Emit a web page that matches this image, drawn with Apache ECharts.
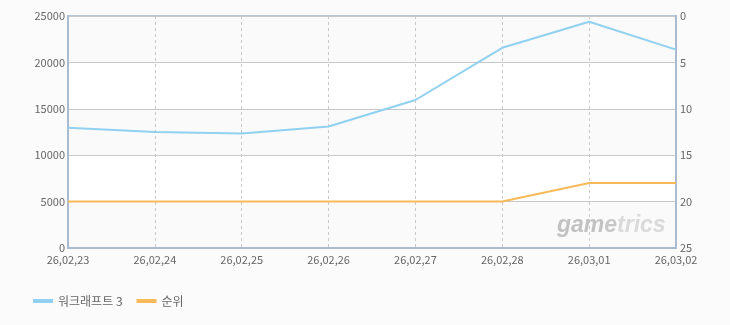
<!DOCTYPE html>
<html>
<head>
<meta charset="utf-8">
<script src="https://cdn.jsdelivr.net/npm/echarts@6/dist/echarts.min.js"></script>
<style>
html,body{margin:0;padding:0;background:#fbfbfb;}
#c{width:730px;height:325px;}
</style>
</head>
<body>
<div id="c"></div>
<script>
var categories = ['26,02,23','26,02,24','26,02,25','26,02,26','26,02,27','26,02,28','26,03,01','26,03,02'];
var gameValues = [12950, 12500, 12350, 13100, 15950, 21570, 24380, 21380];
var rankValues = [20, 20, 20, 20, 20, 20, 18, 18];
var seriesNames = ['워크래프트 3', '순위'];

var font = "'Noto Sans CJK KR', 'DejaVu Sans', sans-serif";
var chart = echarts.init(document.getElementById('c'), null, {renderer: 'canvas'});
var wm = {fontSize: 23, fontStyle: 'italic', fontWeight: 'bold', fontFamily: 'Liberation Sans'};
chart.setOption({
  backgroundColor: '#fbfbfb',
  animation: false,
  grid: {left: 68, right: 54, top: 16, bottom: 77, show: true, borderColor: '#b8c8da', borderWidth: 2, backgroundColor: 'transparent'},
  legend: {
    left: 28, top: 290, itemWidth: 20, itemHeight: 4, itemGap: 14,
    icon: 'rect',
    textStyle: {color: '#666', fontSize: 12, fontFamily: font},
    data: seriesNames
  },
  xAxis: {
    type: 'category', boundaryGap: false, data: categories,
    axisLine: {show: true, lineStyle: {color: '#aabbcf', width: 2}},
    axisTick: {show: false},
    axisLabel: {color: '#666', fontSize: 11, fontFamily: font, margin: 6},
    splitLine: {show: true, lineStyle: {color: '#c8c8c8', type: [3, 3], width: 1}}
  },
  yAxis: [{
    type: 'value', min: 0, max: 25000, interval: 5000,
    axisLine: {show: true, lineStyle: {color: '#aabbcf', width: 2}},
    axisTick: {show: false},
    axisLabel: {color: '#666', fontSize: 11, fontFamily: font, margin: 3, formatter: function (v) { return String(v); }},
    splitLine: {show: true, lineStyle: {color: '#c8c8c8', width: 1}},
    splitArea: {show: true, areaStyle: {color: ['#fafafa', '#ffffff']}}
  }, {
    type: 'value', min: 0, max: 25, interval: 5, inverse: true, position: 'right',
    axisLine: {show: true, lineStyle: {color: '#aabbcf', width: 2}},
    axisTick: {show: false},
    axisLabel: {color: '#666', fontSize: 11, fontFamily: font, margin: 4},
    splitLine: {show: false}
  }],
  graphic: [{
    type: 'text', left: 557, top: 214, z: 1, silent: true,
    style: {
      text: '{a|gam}{b|e}{c|trics}',
      rich: {
        a: Object.assign({fill: '#c2c2c2'}, wm),
        b: Object.assign({fill: '#c8c8c8'}, wm),
        c: Object.assign({fill: '#dadada'}, wm)
      }
    }
  }],
  series: [{
    name: seriesNames[0], type: 'line', data: gameValues, yAxisIndex: 0,
    showSymbol: false, symbol: 'none', z: 3,
    lineStyle: {color: '#90d0f0', width: 2},
    itemStyle: {color: '#90d0f0'}
  }, {
    name: seriesNames[1], type: 'line', data: rankValues, yAxisIndex: 1,
    showSymbol: false, symbol: 'none', z: 3,
    lineStyle: {color: '#f8ba58', width: 2},
    itemStyle: {color: '#f8ba58'}
  }]
});
</script>
</body>
</html>
